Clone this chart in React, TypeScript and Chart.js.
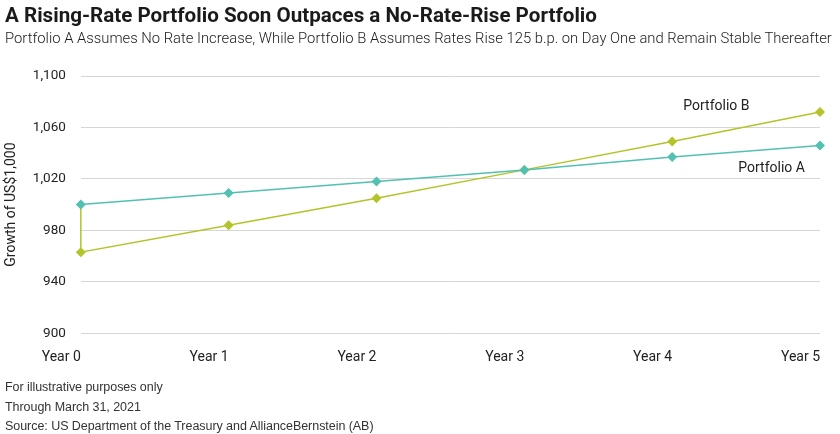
import React, { useEffect, useRef } from "react";
import { Chart, registerables } from "chart.js";

Chart.register(...registerables);

const yearValues = [0, 1, 2, 3, 4, 5];
const yearLabels = ["Year 0", "Year 1", "Year 2", "Year 3", "Year 4", "Year 5"];
const portfolioA = [1000, 1009, 1018, 1027, 1037, 1046];
// Portfolio B starts at 1,000 then drops to 963 on day one (vertical segment at Year 0)
const portfolioBStart = 1000;
const portfolioB = [963, 984, 1005, 1027, 1049, 1072];
const yTicks = [900, 940, 980, 1020, 1060, 1100];

const TEAL = "#52c1b1";
const LIME = "#b3c42b";
const FONT = "Roboto, 'Noto Sans', sans-serif";

export default function App() {
  const ref = useRef<HTMLCanvasElement | null>(null);

  useEffect(() => {
    document.body.style.margin = "0";
    const ctx = ref.current!;
    const labelPlugin = {
      id: "seriesLabels",
      afterDatasetsDraw(chart: any) {
        const { ctx } = chart;
        const xs = chart.scales.x;
        const ys = chart.scales.y;
        ctx.save();
        ctx.font = `14px ${FONT}`;
        ctx.fillStyle = "#222";
        ctx.textAlign = "left";
        ctx.textBaseline = "middle";
        ctx.fillText("Portfolio B", xs.getPixelForValue(4.075), ys.getPixelForValue(1076));
        ctx.fillText("Portfolio A", xs.getPixelForValue(4.447), ys.getPixelForValue(1028));
        ctx.restore();
      },
    };
    const chart = new Chart(ctx, {
      type: "line",
      data: {
        datasets: [
          {
            label: "Portfolio A",
            data: yearValues.map((x, i) => ({ x, y: portfolioA[i] })),
            borderColor: TEAL,
            backgroundColor: TEAL,
            borderWidth: 1.5,
            pointStyle: "rectRot",
            pointRadius: 5,
            pointBorderWidth: 0,
            tension: 0,
            clip: false,
          },
          {
            label: "Portfolio B",
            data: [
              { x: yearValues[0], y: portfolioBStart },
              ...yearValues.map((x, i) => ({ x, y: portfolioB[i] })),
            ],
            borderColor: LIME,
            backgroundColor: LIME,
            borderWidth: 1.5,
            pointStyle: "rectRot",
            pointRadius: [0, 5, 5, 5, 5, 5, 5],
            pointBorderWidth: 0,
            tension: 0,
            clip: false,
          },
        ],
      },
      options: {
        animation: false,
        responsive: false,
        layout: { padding: { top: 76, right: 20, bottom: 52, left: 0 } },
        plugins: {
          legend: { display: false },
          tooltip: { enabled: false },
          title: { display: false },
        },
        scales: {
          x: {
            type: "linear",
            min: 0,
            max: 5,
            afterBuildTicks: (axis: any) => {
              axis.ticks = yearValues.map((v) => ({ value: v }));
            },
            grid: { display: false, drawTicks: false },
            border: { display: false },
            ticks: {
              align: "end",
              padding: 16,
              color: "#222",
              font: { family: FONT, size: 14 },
              callback: (v: any) => yearLabels[yearValues.indexOf(Number(v))] ?? "",
            },
          },
          y: {
            min: 900,
            max: 1100,
            afterBuildTicks: (axis: any) => {
              axis.ticks = yTicks.map((v) => ({ value: v }));
            },
            grid: { color: "#d6d6d6", drawTicks: false, lineWidth: 1 },
            border: { display: false },
            ticks: {
              padding: 15,
              color: "#222",
              font: { family: FONT, size: 13.5 },
              callback: (v: any) => Number(v).toLocaleString("en-US"),
            },
            title: {
              display: true,
              text: "Growth of US$1,000",
              color: "#222",
              font: { family: FONT, size: 14 },
              padding: { top: 3, bottom: -2 },
            },
          },
        },
      },
      plugins: [labelPlugin],
    });
    return () => chart.destroy();
  }, []);

  return (
    <div style={{ position: "relative", width: 840, height: 434, background: "#fff", overflow: "hidden" }}>
      <canvas ref={ref} width={840} height={434} style={{ position: "absolute", left: 0, top: 0 }} />
      <div
        style={{
          position: "absolute",
          left: 5,
          top: 3,
          fontFamily: FONT,
          fontWeight: 700,
          fontSize: 20.6,
          color: "#1a1a1a",
          whiteSpace: "nowrap",
        }}
      >
        A Rising-Rate Portfolio Soon Outpaces a No-Rate-Rise Portfolio
      </div>
      <div
        style={{
          position: "absolute",
          left: 5,
          top: 29,
          fontFamily: FONT,
          fontWeight: 300,
          fontSize: 14.8,
          color: "#1a1a1a",
          whiteSpace: "nowrap",
        }}
      >
        Portfolio A Assumes No Rate Increase, While Portfolio B Assumes Rates Rise 125 b.p. on Day One and Remain Stable Thereafter
      </div>
      <div
        style={{
          position: "absolute",
          left: 5,
          top: 378,
          fontFamily: "'Liberation Sans', Arial, sans-serif",
          fontSize: 12.5,
          lineHeight: "19.5px",
          color: "#333",
          whiteSpace: "nowrap",
          letterSpacing: -0.05,
        }}
      >
        <div>For illustrative purposes only</div>
        <div>Through March 31, 2021</div>
        <div>Source: US Department of the Treasury and AllianceBernstein (AB)</div>
      </div>
    </div>
  );
}
